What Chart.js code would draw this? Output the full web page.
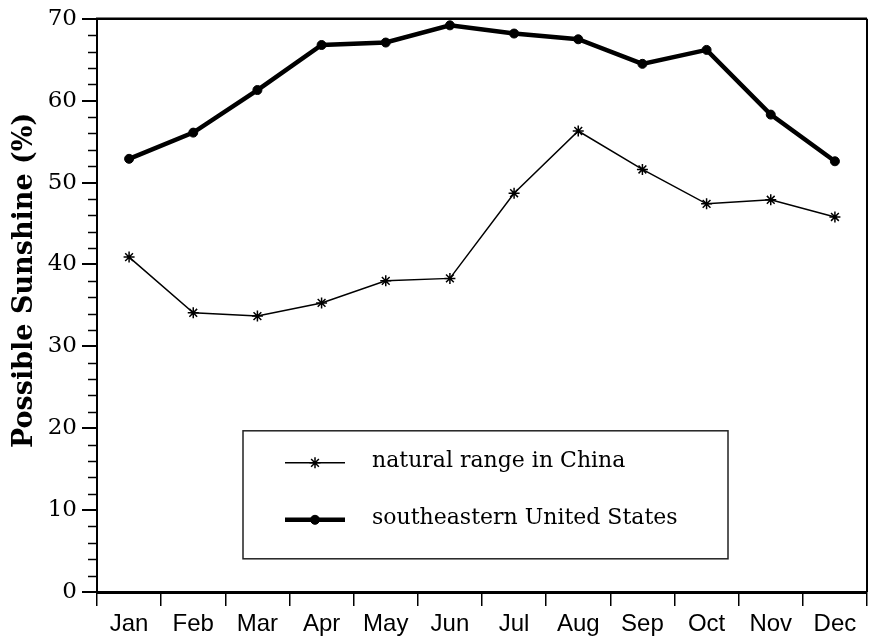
<!DOCTYPE html>
<html>
<head>
<meta charset="utf-8">
<title>Possible Sunshine by Month</title>
<script src="https://cdn.jsdelivr.net/npm/chart.js@4/dist/chart.umd.min.js"></script>
<style>
  html, body { margin: 0; padding: 0; background: #fff; }
  #wrap { width: 875px; height: 642px; }
</style>
</head>
<body>
<div id="wrap"><canvas id="chart" width="875" height="642"></canvas></div>
<script>
// Month categories along the x axis
const months = ['Jan', 'Feb', 'Mar', 'Apr', 'May', 'Jun', 'Jul', 'Aug', 'Sep', 'Oct', 'Nov', 'Dec'];

// Percent of possible sunshine per month
const chinaSunshine = [40.9, 34.1, 33.7, 35.3, 38.0, 38.3, 48.7, 56.3, 51.6, 47.4, 47.9, 45.8];
const seUSSunshine  = [52.9, 56.1, 61.3, 66.8, 67.1, 69.2, 68.2, 67.5, 64.5, 66.2, 58.3, 52.6];

// Series names
const seriesLabels = ['natural range in China', 'southeastern United States'];

// Y axis range and tick spacing
const yMin = 0;
const yMax = 70;
const yMajorStep = 10;
const yMinorStep = 2;

const yTitle = 'Possible Sunshine (%)';

// Short unlabelled ticks between the labelled ones on the y axis
const minorTicks = {
  id: 'minorTicks',
  afterDraw(chart) {
    const y = chart.scales.y;
    const ctx = chart.ctx;
    const left = chart.chartArea.left;
    ctx.save();
    ctx.strokeStyle = '#000';
    ctx.lineWidth = 1.5;
    for (let v = yMin; v <= yMax; v += yMinorStep) {
      if (v % yMajorStep === 0) continue;
      const py = Math.round(y.getPixelForValue(v)) + 0.5;
      ctx.beginPath();
      ctx.moveTo(left - 9, py);
      ctx.lineTo(left, py);
      ctx.stroke();
    }
    ctx.restore();
  }
};

// Top and right edges of the plot frame
const frame = {
  id: 'frame',
  afterDraw(chart) {
    const { left, right, top, bottom } = chart.chartArea;
    const ctx = chart.ctx;
    ctx.save();
    ctx.strokeStyle = '#000';
    ctx.lineWidth = 2.5;
    ctx.beginPath();
    ctx.moveTo(left - 1, top);
    ctx.lineTo(right, top);
    ctx.stroke();
    ctx.lineWidth = 2;
    ctx.beginPath();
    ctx.moveTo(right, top);
    ctx.lineTo(right, bottom);
    ctx.stroke();
    ctx.restore();
  }
};

// Rotated y axis title
const yAxisTitle = {
  id: 'yAxisTitle',
  afterDraw(chart) {
    const { top, bottom } = chart.chartArea;
    const ctx = chart.ctx;
    ctx.save();
    ctx.translate(32, (top + bottom) / 2 - 25);
    ctx.rotate(-Math.PI / 2);
    ctx.font = 'bold 27px "DejaVu Serif"';
    ctx.fillStyle = '#000';
    ctx.textAlign = 'center';
    ctx.textBaseline = 'alphabetic';
    ctx.fillText(yTitle, 0, 0);
    ctx.restore();
  }
};

// Boxed legend inside the plot area, built from the datasets' own styles
const boxedLegend = {
  id: 'boxedLegend',
  afterDraw(chart) {
    const ca = chart.chartArea;
    const ctx = chart.ctx;
    const bx = ca.left + 146;
    const by = ca.top + 412;
    const bw = 485;
    const bh = 128;
    ctx.save();
    ctx.fillStyle = '#fff';
    ctx.fillRect(bx, by, bw, bh);
    ctx.strokeStyle = '#222';
    ctx.lineWidth = 1.5;
    ctx.strokeRect(bx, by, bw, bh);

    const rowY = [by + 32, by + 89];
    chart.data.datasets.forEach((ds, i) => {
      const yy = rowY[i];
      ctx.strokeStyle = ds.borderColor;
      ctx.lineWidth = ds.borderWidth;
      ctx.beginPath();
      ctx.moveTo(bx + 42, yy);
      ctx.lineTo(bx + 102, yy);
      ctx.stroke();
      ctx.fillStyle = ds.pointBackgroundColor;
      ctx.strokeStyle = ds.pointBorderColor;
      ctx.lineWidth = ds.pointBorderWidth;
      Chart.helpers.drawPoint(ctx, {
        pointStyle: ds.pointStyle,
        radius: ds.pointRadius,
        rotation: 0,
        borderWidth: ds.pointBorderWidth
      }, bx + 72, yy);
      ctx.fillStyle = '#000';
      ctx.font = '22px "DejaVu Serif"';
      ctx.textAlign = 'left';
      ctx.textBaseline = 'alphabetic';
      ctx.fillText(ds.label, bx + 129, yy + 4);
    });
    ctx.restore();
  }
};

new Chart(document.getElementById('chart'), {
  type: 'line',
  data: {
    labels: months,
    datasets: [
      {
        label: seriesLabels[0],
        data: chinaSunshine,
        borderColor: '#000',
        borderWidth: 1.5,
        pointStyle: 'star',
        pointRadius: 5.5,
        pointBorderWidth: 1.5,
        pointBorderColor: '#000',
        pointBackgroundColor: '#000',
        tension: 0,
        fill: false
      },
      {
        label: seriesLabels[1],
        data: seUSSunshine,
        borderColor: '#000',
        borderWidth: 4.5,
        pointStyle: 'circle',
        pointRadius: 4.5,
        pointBorderWidth: 1,
        pointBorderColor: '#000',
        pointBackgroundColor: '#000',
        tension: 0,
        fill: false
      }
    ]
  },
  options: {
    responsive: false,
    animation: false,
    devicePixelRatio: 1,
    layout: { padding: { top: 17, right: 8, left: 0, bottom: 0 } },
    plugins: {
      legend: { display: false },
      tooltip: { enabled: false },
      title: { display: false }
    },
    scales: {
      x: {
        type: 'category',
        offset: true,
        grid: {
          offset: true,
          drawOnChartArea: false,
          drawTicks: true,
          tickLength: 14,
          lineWidth: 1.5,
          color: '#000'
        },
        border: { display: true, color: '#000', width: 3 },
        ticks: {
          color: '#000',
          font: { family: '"Liberation Sans", Arial, sans-serif', size: 24 },
          padding: 4,
          maxRotation: 0,
          autoSkip: false
        },
        afterFit(scale) { scale.height = 50; }
      },
      y: {
        min: yMin,
        max: yMax,
        ticks: {
          stepSize: yMajorStep,
          color: '#000',
          font: { family: '"DejaVu Serif", serif', size: 23 },
          padding: 5
        },
        grid: {
          drawOnChartArea: false,
          drawTicks: true,
          tickLength: 15,
          lineWidth: 2,
          color: '#000'
        },
        border: { display: true, color: '#000', width: 2 },
        afterFit(scale) { scale.width = 97; }
      }
    }
  },
  plugins: [minorTicks, frame, yAxisTitle, boxedLegend]
});
</script>
</body>
</html>
